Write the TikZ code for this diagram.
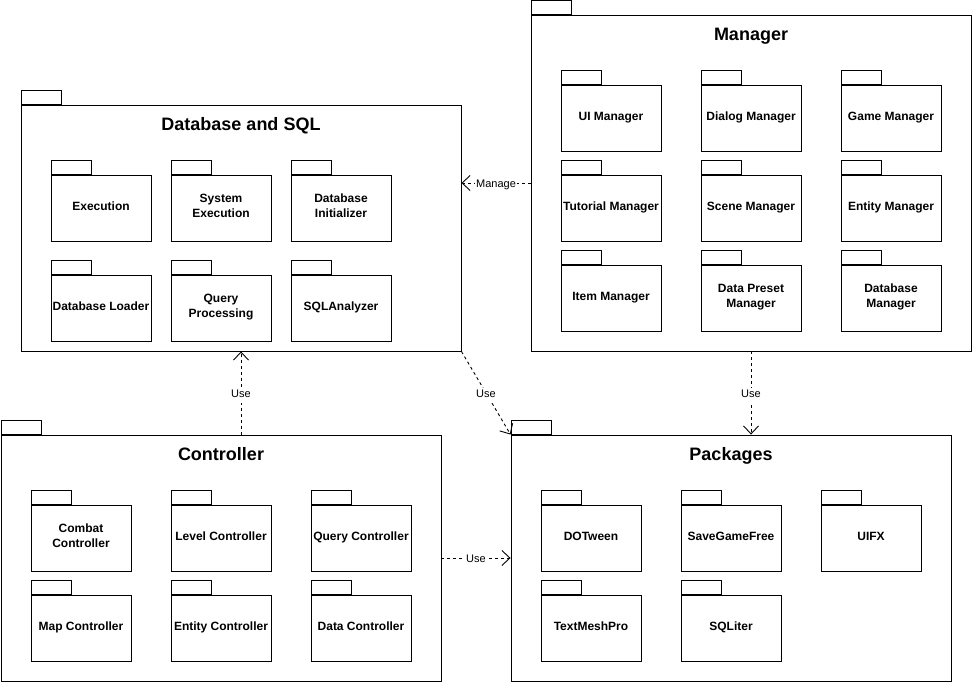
\documentclass[tikz,border=0pt]{standalone}
\usepackage{fontspec}
\setmainfont{Liberation Sans}
\usetikzlibrary{positioning,arrows.meta}

\begin{document}
\begin{tikzpicture}[x=1pt, y=-1pt, line width=0.9pt,
	pkgbody/.style={draw, rectangle, minimum width=100pt, minimum height=66pt, align=center,
		inner sep=1pt, font=\fontsize{12}{14.5}\selectfont\bfseries,
		execute at begin node=\strut, execute at end node=\strut},
	pkgouter/.style={draw, rectangle, minimum width=440pt, inner sep=0pt},
	pkgtab/.style={draw, rectangle, minimum width=40pt, minimum height=14pt, inner sep=0pt},
	pkgtitle/.style={font=\fontsize{18}{21}\selectfont\bfseries, execute at begin node=\strut},
	dep/.style={dash pattern=on 3pt off 3pt, -{Straight Barb[length=8pt,width=15pt]}},
	deplabel/.style={fill=white, inner sep=1pt, yshift=-2pt, font=\fontsize{11}{13}\selectfont,
		execute at begin node=\strut}]
\useasboundingbox (0,0) rectangle (973,684);

% outer packages
\node[pkgouter, minimum height=246pt] (db) at (241,228) {};
\node[pkgouter, minimum height=336pt] (manager) at (751,183) {};
\node[pkgouter, minimum height=246pt] (controller) at (221,558) {};
\node[pkgouter, minimum height=246pt] (packages) at (731,558) {};

\foreach \p/\t in {db/Database and SQL, manager/Manager, controller/Controller, packages/Packages}{
	\node[pkgtab, above right=0pt and 0pt of \p.north west] (\p-tab) {};
	\node[pkgtitle] (\p-title) at ([yshift=-22pt]\p.north) {\t};
}

% inner packages
\foreach \n/\x/\y/\t in {
	execution/101/208/Execution,
	sysexec/221/208/{System\\Execution},
	dbinit/341/208/{Database\\Initializer},
	dbloader/101/308/Database Loader,
	queryproc/221/308/{Query\\Processing},
	sqlanalyzer/341/308/SQLAnalyzer,
	uimgr/611/118/UI Manager,
	dialogmgr/751/118/Dialog Manager,
	gamemgr/891/118/Game Manager,
	tutorialmgr/611/208/Tutorial Manager,
	scenemgr/751/208/Scene Manager,
	entitymgr/891/208/Entity Manager,
	itemmgr/611/298/Item Manager,
	presetmgr/751/298/{Data Preset\\Manager},
	dbmgr/891/298/{Database\\Manager},
	combatctrl/81/538/{Combat\\Controller},
	levelctrl/221/538/Level Controller,
	queryctrl/361/538/Query Controller,
	mapctrl/81/628/Map Controller,
	entityctrl/221/628/Entity Controller,
	datactrl/361/628/Data Controller,
	dotween/591/538/DOTween,
	savegame/731/538/SaveGameFree,
	uifx/871/538/UIFX,
	textmesh/591/628/TextMeshPro,
	sqliter/731/628/SQLiter}{
	\node[pkgbody] (\n) at (\x,\y) {\t};
	\node[pkgtab, above right=0pt and 0pt of \n.north west] (\n-tab) {};
}

% dependencies
\draw[dep] (manager.west) -- node[deplabel] {Manage} (manager.west -| db.east);
\draw[dep] (controller.north -| db.south) -- node[deplabel] {Use} (db.south);
\draw[dep] (db.south east) -- node[deplabel] {Use} (packages.north west);
\draw[dep] (manager.south) -- node[deplabel] {Use} (manager.south |- packages.north);
\draw[dep] (controller.east) -- node[deplabel] {Use} (packages.west);
\end{tikzpicture}
\end{document}
